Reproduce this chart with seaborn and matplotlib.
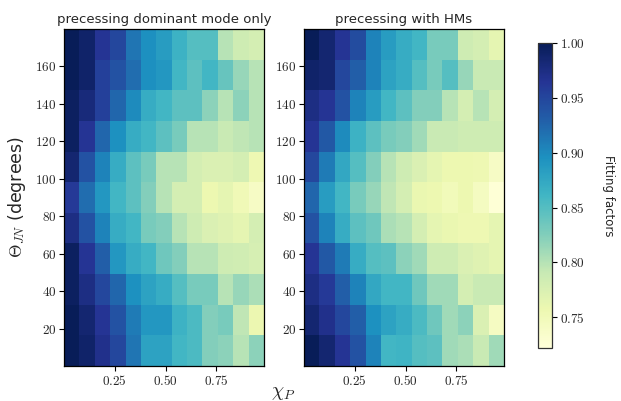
import numpy as np
import pandas as pd
import matplotlib
matplotlib.use("Agg")
import matplotlib.pyplot as plt
import seaborn as sns

sns.set_theme(style="white")
plt.rcParams['font.family'] = ['DejaVu Sans']
plt.rcParams['mathtext.fontset'] = 'cm'

# Fitting factors, rows from top (Theta_JN ~180) to bottom (~0), 13 chi_p bins
dominant = [
    [1.000, 0.990, 0.965, 0.950, 0.915, 0.896, 0.885, 0.865, 0.850, 0.850, 0.800, 0.785, 0.780],
    [1.000, 0.990, 0.955, 0.940, 0.920, 0.896, 0.890, 0.860, 0.845, 0.860, 0.840, 0.815, 0.800],
    [0.995, 0.980, 0.955, 0.925, 0.900, 0.870, 0.860, 0.845, 0.845, 0.820, 0.800, 0.820, 0.800],
    [0.995, 0.965, 0.925, 0.895, 0.870, 0.860, 0.845, 0.830, 0.800, 0.800, 0.790, 0.795, 0.800],
    [0.985, 0.940, 0.905, 0.870, 0.845, 0.830, 0.800, 0.800, 0.780, 0.775, 0.775, 0.780, 0.755],
    [0.960, 0.920, 0.890, 0.860, 0.845, 0.825, 0.800, 0.780, 0.780, 0.757, 0.765, 0.752, 0.740],
    [0.975, 0.940, 0.905, 0.870, 0.860, 0.830, 0.825, 0.800, 0.785, 0.775, 0.770, 0.765, 0.780],
    [0.995, 0.965, 0.930, 0.890, 0.870, 0.860, 0.835, 0.825, 0.800, 0.800, 0.785, 0.783, 0.778],
    [0.995, 0.975, 0.950, 0.925, 0.895, 0.880, 0.870, 0.850, 0.830, 0.830, 0.800, 0.815, 0.805],
    [1.000, 0.985, 0.965, 0.940, 0.910, 0.890, 0.890, 0.865, 0.855, 0.825, 0.830, 0.795, 0.758],
    [1.000, 0.990, 0.970, 0.950, 0.915, 0.880, 0.880, 0.860, 0.855, 0.825, 0.820, 0.800, 0.820],
]
with_hms = [
    [1.000, 0.985, 0.965, 0.945, 0.905, 0.885, 0.870, 0.860, 0.830, 0.830, 0.785, 0.780, 0.765],
    [0.990, 0.985, 0.950, 0.930, 0.905, 0.880, 0.870, 0.850, 0.830, 0.850, 0.815, 0.790, 0.790],
    [0.975, 0.965, 0.940, 0.905, 0.885, 0.860, 0.845, 0.825, 0.825, 0.800, 0.780, 0.800, 0.780],
    [0.965, 0.935, 0.900, 0.865, 0.845, 0.830, 0.825, 0.810, 0.790, 0.790, 0.785, 0.785, 0.785],
    [0.950, 0.910, 0.875, 0.850, 0.825, 0.800, 0.785, 0.775, 0.765, 0.757, 0.757, 0.755, 0.740],
    [0.925, 0.885, 0.860, 0.830, 0.815, 0.795, 0.780, 0.760, 0.757, 0.750, 0.757, 0.743, 0.725],
    [0.940, 0.905, 0.870, 0.845, 0.835, 0.805, 0.800, 0.780, 0.765, 0.760, 0.755, 0.755, 0.765],
    [0.965, 0.935, 0.910, 0.870, 0.850, 0.845, 0.820, 0.810, 0.785, 0.785, 0.775, 0.770, 0.765],
    [0.975, 0.960, 0.930, 0.905, 0.875, 0.860, 0.860, 0.835, 0.810, 0.810, 0.780, 0.790, 0.790],
    [0.985, 0.970, 0.950, 0.930, 0.895, 0.880, 0.870, 0.855, 0.835, 0.810, 0.820, 0.775, 0.742],
    [1.000, 0.985, 0.965, 0.940, 0.905, 0.860, 0.863, 0.850, 0.845, 0.810, 0.805, 0.790, 0.810],
]
titles = ["precessing dominant mode only", "precessing with HMs"]
x_ticks = [0.25, 0.50, 0.75]
y_ticks = [20, 40, 60, 80, 100, 120, 140, 160]
cbar_ticks = [0.75, 0.80, 0.85, 0.90, 0.95, 1.00]

x_max = 0.985
theta_max = 180.0
vmin, vmax = 0.722, 1.0

fig = plt.figure(figsize=(6.21, 4.01), dpi=100)
ax1 = fig.add_axes([64/621, 1-366/401, 200/621, 337/401])
ax2 = fig.add_axes([304/621, 1-366/401, 200/621, 337/401])
cax = fig.add_axes([538/621, 1-348/401, 14/621, 305/401])

for i, (ax, data, title) in enumerate(zip([ax1, ax2], [dominant, with_hms], titles)):
    df = pd.DataFrame(np.array(data))
    nrow, ncol = df.shape
    sns.heatmap(df, ax=ax, cmap="YlGnBu", vmin=vmin, vmax=vmax,
                cbar=(i == 1), cbar_ax=cax if i == 1 else None,
                xticklabels=False, yticklabels=False, linewidths=0)
    ax.set_xticks([v / x_max * ncol for v in x_ticks])
    ax.set_xticklabels([r'$%.2f$' % v for v in x_ticks], fontsize=9.5)
    ax.set_yticks([(theta_max - v) / theta_max * nrow for v in y_ticks])
    ax.set_yticklabels([r'$%d$' % v for v in y_ticks], fontsize=9.5, rotation=0)
    ax.tick_params(axis='both', which='both', direction='out', length=3.5, width=0.8,
                   color='black', pad=2, bottom=True, left=True)
    for s in ax.spines.values():
        s.set_visible(True)
        s.set_color('black')
        s.set_linewidth(0.9)
    ax.set_title(title, fontsize=9.5, pad=4)
    ax.set_xlabel('')
    ax.set_ylabel('')

ax1.set_ylabel(r'$\Theta_{JN}$ (degrees)', fontsize=12.5, labelpad=5)
fig.text(283/621, 1-392/401, r'$\chi_P$', fontsize=14, ha='center', va='center')

cbar = ax2.collections[0].colorbar
cax.set_yticks(cbar_ticks)
cax.set_yticklabels([r'$%.2f$' % v for v in cbar_ticks], fontsize=9.5)
cax.tick_params(length=3.5, width=0.8, color='black', direction='out', right=True, pad=2)
cbar.outline.set_visible(True)
cbar.outline.set_edgecolor('#333333')
cbar.outline.set_linewidth(0.9)
cax.set_ylabel('Fitting factors', rotation=270, fontsize=8.5, labelpad=22)
cax.yaxis.set_label_position('right')

fig.savefig("out.png", dpi=100)
